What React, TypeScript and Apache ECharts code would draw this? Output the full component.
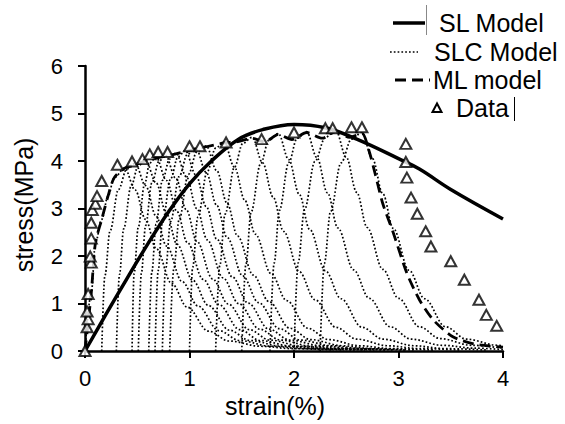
import React, { useEffect, useRef } from "react";
import * as echarts from "echarts";

// SL Model (solid)
const slX = [0, 0.2, 0.4, 0.6, 0.8, 1.0, 1.2, 1.47, 1.7, 2.0, 2.3, 2.6, 3.0, 3.2, 3.5, 4.0];
const slY = [0, 0.77, 1.52, 2.25, 2.93, 3.52, 3.98, 4.46, 4.66, 4.77, 4.7, 4.46, 4.05, 3.83, 3.4, 2.78];

// ML model (dashed)
const mlX = [0, 0.06, 0.1, 0.16, 0.22, 0.28, 0.38, 0.48, 0.58, 0.68, 0.77, 0.87, 0.96, 1.06, 1.16, 1.33, 1.45, 1.6, 1.72, 1.85, 1.98, 2.12, 2.27, 2.4, 2.53, 2.65, 2.72, 2.78, 2.85, 2.95, 3.08, 3.2, 3.33, 3.52, 3.72, 4.0];
const mlY = [0, 1.22, 2.28, 2.77, 3.26, 3.65, 3.85, 3.92, 4.0, 4.06, 4.1, 4.15, 4.2, 4.25, 4.3, 4.38, 4.4, 4.48, 4.4, 4.56, 4.45, 4.6, 4.48, 4.62, 4.5, 4.58, 4.2, 3.7, 3.1, 2.49, 1.64, 1.08, 0.66, 0.3, 0.15, 0.08];

// Data (triangles)
const dataX = [0.0, 0.02, 0.03, 0.02, 0.03, 0.06, 0.05, 0.06, 0.06, 0.07, 0.1, 0.115, 0.16, 0.31, 0.45, 0.55, 0.62, 0.7, 0.79, 1.0, 1.1, 1.35, 1.69, 2.0, 2.3, 2.37, 2.55, 2.65, 3.07, 3.07, 3.08, 3.12, 3.18, 3.26, 3.31, 3.5, 3.63, 3.77, 3.84, 3.94];
const dataY = [0.0, 0.5, 0.67, 0.83, 1.2, 1.86, 1.99, 2.37, 2.7, 2.97, 3.1, 3.26, 3.58, 3.92, 3.99, 4.04, 4.14, 4.19, 4.19, 4.31, 4.31, 4.39, 4.46, 4.6, 4.69, 4.69, 4.71, 4.71, 4.36, 3.98, 3.65, 3.23, 2.89, 2.52, 2.2, 1.89, 1.5, 1.08, 0.76, 0.53];

// SLC Model (dotted) — one small curve per loading step
const slc01 = [[0, 0], [0.06, 1.22], [0.1, 2.28], [0.16, 2.77], [0.22, 3.26], [0.28, 3.65], [0.38, 3.85], [0.48, 3.39], [0.58, 2.77], [0.68, 2.16], [0.83, 1.42], [0.98, 0.92], [1.18, 0.42], [1.38, 0.21], [1.68, 0.1], [1.98, 0.05], [2.38, 0.02]];
const slc02 = [[0.16, 0], [0.19, 1.58], [0.24, 2.53], [0.32, 3.4], [0.4, 3.83], [0.48, 3.95], [0.58, 3.48], [0.68, 2.84], [0.78, 2.21], [0.93, 1.46], [1.08, 0.95], [1.28, 0.43], [1.48, 0.22], [1.78, 0.1], [2.08, 0.05], [2.48, 0.02]];
const slc03 = [[0.3, 0], [0.33, 1.61], [0.37, 2.57], [0.44, 3.46], [0.51, 3.9], [0.58, 4.02], [0.68, 3.54], [0.78, 2.89], [0.88, 2.25], [1.03, 1.49], [1.18, 0.96], [1.38, 0.44], [1.58, 0.22], [1.88, 0.1], [2.18, 0.05], [2.58, 0.02]];
const slc04 = [[0.45, 0], [0.47, 1.63], [0.51, 2.61], [0.57, 3.51], [0.62, 3.96], [0.68, 4.08], [0.78, 3.59], [0.88, 2.94], [0.98, 2.28], [1.13, 1.51], [1.28, 0.98], [1.48, 0.45], [1.68, 0.22], [1.98, 0.1], [2.28, 0.05], [2.68, 0.02]];
const slc05 = [[0.51, 0], [0.54, 1.65], [0.58, 2.64], [0.64, 3.54], [0.71, 4.0], [0.77, 4.12], [0.87, 3.63], [0.97, 2.97], [1.07, 2.31], [1.22, 1.52], [1.37, 0.99], [1.57, 0.45], [1.77, 0.23], [2.07, 0.1], [2.37, 0.05], [2.77, 0.02]];
const slc06 = [[0.61, 0], [0.64, 1.67], [0.68, 2.67], [0.74, 3.59], [0.81, 4.04], [0.87, 4.17], [0.97, 3.67], [1.07, 3.0], [1.17, 2.34], [1.32, 1.54], [1.47, 1.0], [1.67, 0.46], [1.87, 0.23], [2.17, 0.1], [2.47, 0.05], [2.87, 0.02]];
const slc07 = [[0.67, 0], [0.7, 1.69], [0.74, 2.7], [0.82, 3.63], [0.89, 4.09], [0.96, 4.22], [1.06, 3.71], [1.16, 3.04], [1.26, 2.36], [1.41, 1.56], [1.56, 1.01], [1.76, 0.46], [1.96, 0.23], [2.26, 0.11], [2.56, 0.05], [2.96, 0.02]];
const slc08 = [[0.74, 0], [0.77, 1.71], [0.82, 2.73], [0.9, 3.67], [0.98, 4.14], [1.06, 4.27], [1.16, 3.76], [1.26, 3.07], [1.36, 2.39], [1.51, 1.58], [1.66, 1.02], [1.86, 0.47], [2.06, 0.23], [2.36, 0.11], [2.66, 0.05], [3.06, 0.02]];
const slc09 = [[0.81, 0], [0.85, 1.73], [0.9, 2.76], [0.99, 3.72], [1.07, 4.19], [1.16, 4.32], [1.26, 3.8], [1.36, 3.11], [1.46, 2.42], [1.61, 1.6], [1.76, 1.04], [1.96, 0.48], [2.16, 0.24], [2.46, 0.11], [2.76, 0.05], [3.16, 0.02]];
const slc10 = [[1.0, 0], [1.03, 1.76], [1.08, 2.82], [1.17, 3.78], [1.25, 4.27], [1.33, 4.4], [1.43, 3.87], [1.53, 3.17], [1.63, 2.46], [1.78, 1.63], [1.93, 1.06], [2.13, 0.48], [2.33, 0.24], [2.63, 0.11], [2.93, 0.05], [3.33, 0.02]];
const slc11 = [[1.25, 0], [1.29, 1.8], [1.34, 2.88], [1.43, 3.87], [1.51, 4.37], [1.6, 4.5], [1.7, 3.96], [1.8, 3.24], [1.9, 2.52], [2.05, 1.67], [2.2, 1.08], [2.4, 0.5], [2.6, 0.25], [2.9, 0.11], [3.2, 0.05], [3.6, 0.02]];
const slc12 = [[1.5, 0], [1.54, 1.83], [1.59, 2.93], [1.68, 3.94], [1.76, 4.44], [1.85, 4.58], [1.95, 4.03], [2.05, 3.3], [2.15, 2.56], [2.3, 1.69], [2.45, 1.1], [2.65, 0.5], [2.85, 0.25], [3.15, 0.11], [3.45, 0.05], [3.85, 0.02]];
const slc13 = [[1.77, 0], [1.81, 1.85], [1.86, 2.96], [1.95, 3.97], [2.03, 4.48], [2.12, 4.62], [2.22, 4.07], [2.32, 3.33], [2.42, 2.59], [2.57, 1.71], [2.72, 1.11], [2.92, 0.51], [3.12, 0.25], [3.42, 0.12], [3.72, 0.06], [4.0, 0.03]];
const slc14 = [[2.0, 0], [2.04, 1.86], [2.1, 2.97], [2.2, 3.99], [2.3, 4.5], [2.4, 4.64], [2.5, 4.08], [2.6, 3.34], [2.7, 2.6], [2.85, 1.72], [3.0, 1.11], [3.2, 0.51], [3.4, 0.26], [3.7, 0.12], [4.0, 0.06]];
const slc15 = [[2.25, 0], [2.29, 1.84], [2.35, 2.94], [2.45, 3.96], [2.55, 4.46], [2.65, 4.6], [2.75, 4.05], [2.85, 3.31], [2.95, 2.58], [3.1, 1.7], [3.25, 1.1], [3.45, 0.51], [3.65, 0.25], [3.95, 0.12], [4.0, 0.11]];
const slcCurves = [slc01, slc02, slc03, slc04, slc05, slc06, slc07, slc08, slc09, slc10, slc11, slc12, slc13, slc14, slc15];

const xTicks = [0, 1, 2, 3, 4];
const yTicks = [0, 1, 2, 3, 4, 5, 6];

const FONT = "'Liberation Sans', Arial, sans-serif";

export default function App() {
  const ref = useRef<HTMLDivElement>(null);
  useEffect(() => {
    if (!ref.current) return;
    const chart = echarts.init(ref.current, undefined, { renderer: "svg" });
    const zip = (xs: number[], ys: number[]) => xs.map((x, i) => [x, ys[i]]);
    const series: any[] = [];
    slcCurves.forEach((c) => {
      series.push({
        name: "SLC Model",
        type: "line",
        data: c,
        showSymbol: false,
        symbol: "none",
        smooth: 0.35,
        smoothMonotone: "x",
        silent: true,
        lineStyle: { color: "#000", width: 1.7, type: [1.7, 2.1] },
        z: 2,
      });
    });
    series.push({
      name: "ML model",
      type: "line",
      data: zip(mlX, mlY),
      showSymbol: false,
      symbol: "none",
      smooth: 0.25,
      silent: true,
      lineStyle: { color: "#000", width: 2.8, type: [11, 6] },
      z: 3,
    });
    series.push({
      name: "SL Model",
      type: "line",
      data: zip(slX, slY),
      showSymbol: false,
      symbol: "none",
      smooth: 0.4,
      silent: true,
      lineStyle: { color: "#000", width: 3.5, type: "solid" },
      z: 4,
    });
    series.push({
      name: "Data",
      type: "scatter",
      data: zip(dataX, dataY),
      symbol: "triangle",
      symbolSize: [11, 10],
      silent: true,
      itemStyle: { color: "#fff", borderColor: "#000", borderWidth: 2 },
      z: 5,
    });

    const legendText = (text: string, x: number, y: number) => ({
      type: "text",
      x,
      y,
      style: { text, fontSize: 25, fontFamily: FONT, fill: "#000", verticalAlign: "middle", align: "left" },
      z: 10,
    });

    chart.setOption({
      animation: false,
      backgroundColor: "#fff",
      grid: { left: 85, right: 62, top: 66, bottom: 73, containLabel: false },
      xAxis: {
        type: "value",
        min: xTicks[0],
        max: xTicks[xTicks.length - 1],
        interval: 1,
        axisLine: { show: true, onZero: false, lineStyle: { color: "#000", width: 2.5 } },
        axisTick: { show: true, inside: false, length: 7, lineStyle: { color: "#000", width: 2 } },
        axisLabel: { color: "#000", fontSize: 22, fontFamily: FONT, margin: 16 },
        splitLine: { show: false },
      },
      yAxis: {
        type: "value",
        min: yTicks[0],
        max: yTicks[yTicks.length - 1],
        interval: 1,
        axisLine: { show: true, onZero: false, lineStyle: { color: "#000", width: 2.5 } },
        axisTick: { show: true, inside: false, length: 7, lineStyle: { color: "#000", width: 2 } },
        axisLabel: { color: "#000", fontSize: 22, fontFamily: FONT, margin: 22 },
        splitLine: { show: false },
      },
      graphic: [
        {
          type: "text",
          x: 275,
          y: 406,
          style: { text: "strain(%)", fontSize: 25, fontFamily: FONT, fill: "#000", align: "center", verticalAlign: "middle" },
        },
        {
          type: "text",
          x: 24,
          y: 205,
          rotation: Math.PI / 2,
          style: { text: "stress(MPa)", fontSize: 25, fontFamily: FONT, fill: "#000", align: "center", verticalAlign: "middle" },
        },
        // legend
        { type: "line", shape: { x1: 393, y1: 23, x2: 425, y2: 23 }, style: { stroke: "#000", lineWidth: 3.5 }, z: 10 },
        { type: "line", shape: { x1: 426.5, y1: 5, x2: 426.5, y2: 35 }, style: { stroke: "#888", lineWidth: 1 }, z: 10 },
        legendText("SL Model", 439, 23),
        { type: "line", shape: { x1: 390, y1: 52, x2: 418, y2: 52 }, style: { stroke: "#000", lineWidth: 1.7, lineDash: [1.7, 2.1] }, z: 10 },
        legendText("SLC Model", 434, 52),
        { type: "line", shape: { x1: 395, y1: 80, x2: 430, y2: 80 }, style: { stroke: "#000", lineWidth: 3, lineDash: [11, 6] }, z: 10 },
        legendText("ML model", 433, 80),
        {
          type: "polygon",
          shape: { points: [[437, 103.5], [432.5, 112], [441.5, 112]] },
          style: { fill: "#fff", stroke: "#000", lineWidth: 2 },
          z: 10,
        },
        legendText("Data", 456, 108),
        { type: "line", shape: { x1: 514.5, y1: 97, x2: 514.5, y2: 121 }, style: { stroke: "#000", lineWidth: 1 }, z: 10 },
      ],
      series,
    });
    return () => chart.dispose();
  }, []);
  return (
    <div
      ref={ref}
      style={{ position: "fixed", left: 0, top: 0, width: 565, height: 424, background: "#fff" }}
    />
  );
}
